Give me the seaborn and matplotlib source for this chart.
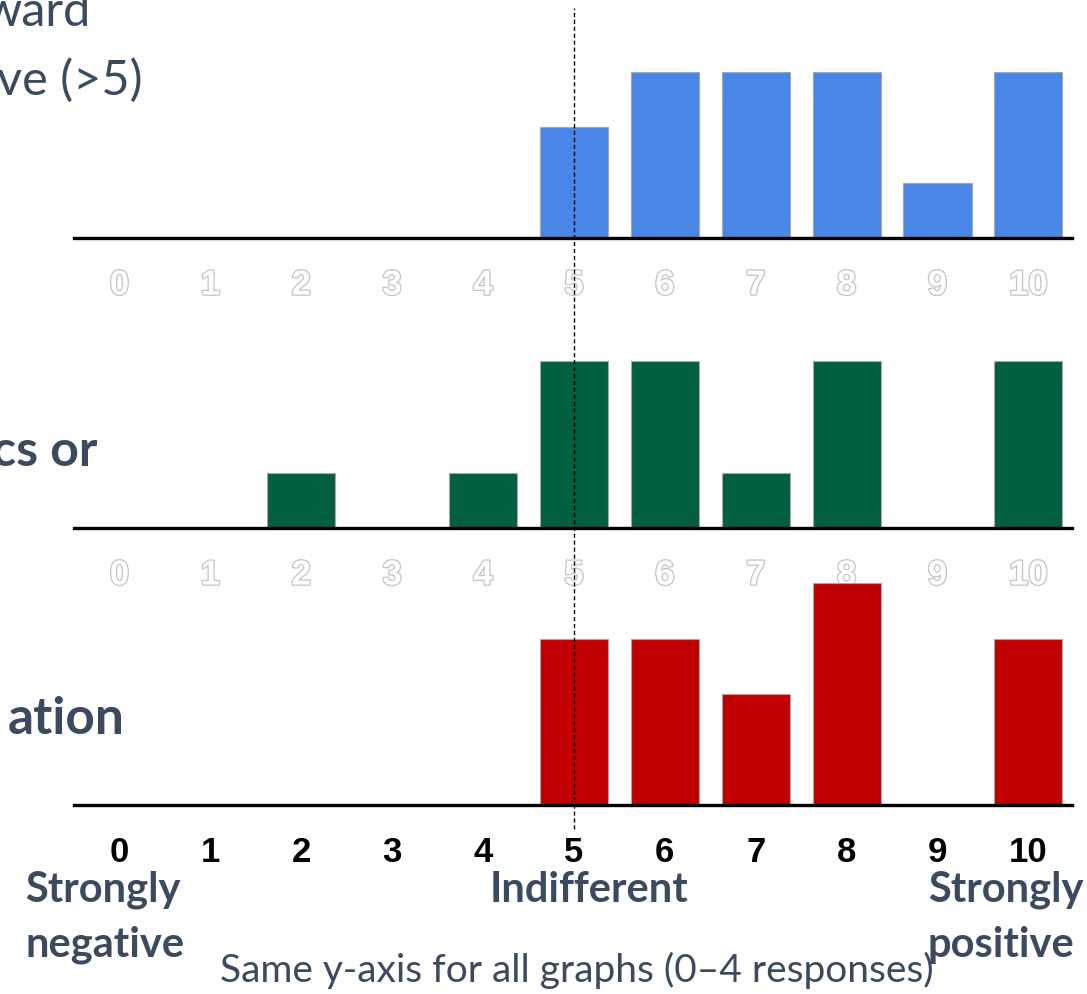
import matplotlib
matplotlib.use("Agg")
import matplotlib.pyplot as plt
import matplotlib.patheffects as pe
import pandas as pd
import seaborn as sns

# scores 0..10 and number of responses per score, one list per graph
scores = list(range(11))
counts_top = [0, 0, 0, 0, 0, 2, 3, 3, 3, 1, 3]
counts_mid = [0, 0, 1, 0, 1, 3, 3, 1, 3, 0, 3]
counts_bot = [0, 0, 0, 0, 0, 3, 3, 2, 4, 0, 3]
colors = ["#4a86e8", "#025f42", "#c00000"]
tick_labels = [str(s) for s in scores]

sns.set_theme(style="white")
plt.rcParams["font.family"] = ["Lato", "DejaVu Sans"]

W, H = 1087, 994
fig = plt.figure(figsize=(W / 100, H / 100), dpi=100)

def px(x, y):
    return x / W, 1 - y / H

text_col = "#3b4a5e"
ax_left, ax_w, ax_h = 74 / W, 998 / W, 222 / H
baselines = [238, 528, 805]
axes = []
for i, (counts, col, base) in enumerate(zip([counts_top, counts_mid, counts_bot], colors, baselines)):
    ax = fig.add_axes([ax_left, 1 - base / H, ax_w, ax_h])
    ax.patch.set_alpha(0)
    dati = pd.DataFrame({"score": tick_labels, "n": counts})
    sns.barplot(data=dati, x="score", y="n", order=tick_labels, color=col,
                width=0.75, edgecolor="#a8a8a8", linewidth=0.8, saturation=1, ax=ax)
    ax.set_xlim(-0.5, 10.48)
    ax.set_ylim(0, 4)
    ax.set_xlabel("")
    ax.set_ylabel("")
    ax.set_yticks([])
    for s in ["top", "left", "right"]:
        ax.spines[s].set_visible(False)
    ax.spines["bottom"].set_linewidth(2.4)
    ax.spines["bottom"].set_color("black")
    ax.tick_params(axis="x", length=0, pad=22)
    for lab in ax.get_xticklabels():
        lab.set_fontfamily("Liberation Sans")
        lab.set_fontweight("bold")
        lab.set_fontsize(25)
        if i < 2:
            lab.set_color("white")
            lab.set_path_effects([pe.withStroke(linewidth=1.8, foreground="#c4c4c4")])
        else:
            lab.set_color("black")
    axes.append(ax)

# dashed line at "indifferent" (5), through all graphs
axes[2].axvline(5, ymin=-0.11, ymax=3.59, clip_on=False, color="black",
                linestyle=(0, (3, 2)), linewidth=1)

# slide labels (cut off on the left in the source)
fig.text(*px(90, 12), "ward", ha="right", va="center", fontsize=35, color=text_col)
fig.text(*px(143, 80), "ve (>5)", ha="right", va="center", fontsize=35, color=text_col)
fig.text(*px(97, 452), "cs or", ha="right", va="center", fontsize=36, color=text_col, fontweight="bold")
fig.text(*px(125, 720), "ation", ha="right", va="center", fontsize=37, color=text_col, fontweight="bold")

fig.text(*px(25, 890), "Strongly", ha="left", va="center", fontsize=30, color=text_col, fontweight="bold")
fig.text(*px(25, 945), "negative", ha="left", va="center", fontsize=30, color=text_col, fontweight="bold")
fig.text(*px(589, 890), "Indifferent", ha="center", va="center", fontsize=30, color=text_col, fontweight="bold")
fig.text(*px(928, 890), "Strongly", ha="left", va="center", fontsize=30, color=text_col, fontweight="bold")
fig.text(*px(928, 945), "positive", ha="left", va="center", fontsize=30, color=text_col, fontweight="bold")
fig.text(*px(577, 970), "Same y-axis for all graphs (0\u20134 responses)", ha="center", va="center",
         fontsize=28, color=text_col)

fig.savefig("out.png", dpi=100)
